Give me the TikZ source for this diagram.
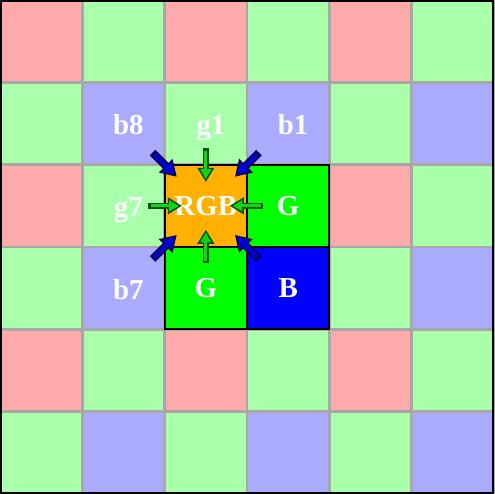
\documentclass[tikz,border=0pt]{standalone}
\usepackage{fontspec}
\setmainfont{Liberation Serif}
\usetikzlibrary{arrows.meta}
\definecolor{BayerR}{RGB}{255,170,170}
\definecolor{BayerG}{RGB}{170,255,170}
\definecolor{BayerB}{RGB}{170,170,255}
\definecolor{GradeCinza}{RGB}{168,168,168}
\definecolor{PixRGB}{RGB}{255,176,0}
\definecolor{PixG}{RGB}{0,255,0}
\definecolor{PixB}{RGB}{0,0,255}
\definecolor{SetaVerde}{RGB}{20,210,20}
\definecolor{SetaVerdeEsc}{RGB}{0,85,0}
\definecolor{SetaAzul}{RGB}{0,0,215}
\definecolor{SetaAzulEsc}{RGB}{0,0,80}
\tikzset{
  pixel/.style={draw=GradeCinza, line width=1pt, minimum size=1cm,
                inner sep=0pt, outer sep=0pt},
  pixelativo/.style={draw=black, line width=0.7pt, minimum size=1cm,
                inner sep=0pt, outer sep=0pt, text=white,
                font=\fontsize{10}{12}\selectfont\bfseries},
  rotulo/.style={text=white, font=\fontsize{10}{12}\selectfont\bfseries,
                anchor=base, inner sep=0pt, xshift=0.06cm, yshift=-0.135cm},
  setaverdefundo/.style={draw=SetaVerdeEsc, line width=2.3pt,
                -{Triangle[length=4.9pt,width=5.6pt]}, shorten <=0.3cm, shorten >=0.29cm},
  setaverde/.style={draw=SetaVerde, line width=1.1pt,
                -{Triangle[length=3.4pt,width=3.6pt]}, shorten <=0.33cm, shorten >=0.325cm},
  setaazulfundo/.style={draw=SetaAzulEsc, line width=2.7pt,
                -{Triangle[length=5.4pt,width=6.3pt]}, shorten <=0.5cm, shorten >=0.5cm},
  setaazul/.style={draw=SetaAzul, line width=1.4pt,
                -{Triangle[length=3.8pt,width=4.2pt]}, shorten <=0.53cm, shorten >=0.535cm},
}

\begin{document}
\begin{tikzpicture}

  \useasboundingbox (0,0) rectangle (6,-6);

  % --- Mosaico de Bayer 6x6 ---------------------------------------------------
  \foreach \lin in {0,...,5} {
    \foreach \col in {0,...,5} {
      \pgfmathtruncatemacro\tipo{mod(\lin,2)*2+mod(\col,2)}
      \ifcase\tipo \def\cor{BayerR}\or \def\cor{BayerG}\or \def\cor{BayerG}\or \def\cor{BayerB}\fi
      \node[pixel, fill=\cor] (p\col\lin) at (\col+0.5,-\lin-0.5) {};
    }
  }
  \draw[black, line width=0.6pt] (0.01,-0.01) rectangle (5.99,-5.99);

  % --- Bloco 2x2 em destaque ------------------------------------------------
  \node[pixelativo, fill=PixRGB] (rgb)    at (p22) {RGB};
  \node[pixelativo, fill=PixG]   (gdir)   at (p32) {G};
  \node[pixelativo, fill=PixG]   (gbaixo) at (p23) {G};
  \node[pixelativo, fill=PixB]   (bdiag)  at (p33) {B};

  % --- Vizinhos usados na interpolacao --------------------------------------
  \node[rotulo] (lb8) at (p11) {b8};
  \node[rotulo] (lg1) at (p21) {g1};
  \node[rotulo] (lb1) at (p31) {b1};
  \node[rotulo] (lg7) at (p12) {g7};
  \node[rotulo] (lb7) at (p13) {b7};

  % --- Setas verdes (vizinhos G) --------------------------------------------
  \foreach \de in {p21, p12, gdir, gbaixo} {
    \draw[setaverdefundo] (\de.center) -- (rgb.center);
    \draw[setaverde] (\de.center) -- (rgb.center);
  }

  % --- Setas azuis (vizinhos B na diagonal) ---------------------------------
  \foreach \de in {p11, p31, p13, bdiag} {
    \draw[setaazulfundo] (\de.center) -- (rgb.center);
    \draw[setaazul] (\de.center) -- (rgb.center);
  }

\end{tikzpicture}
\end{document}
